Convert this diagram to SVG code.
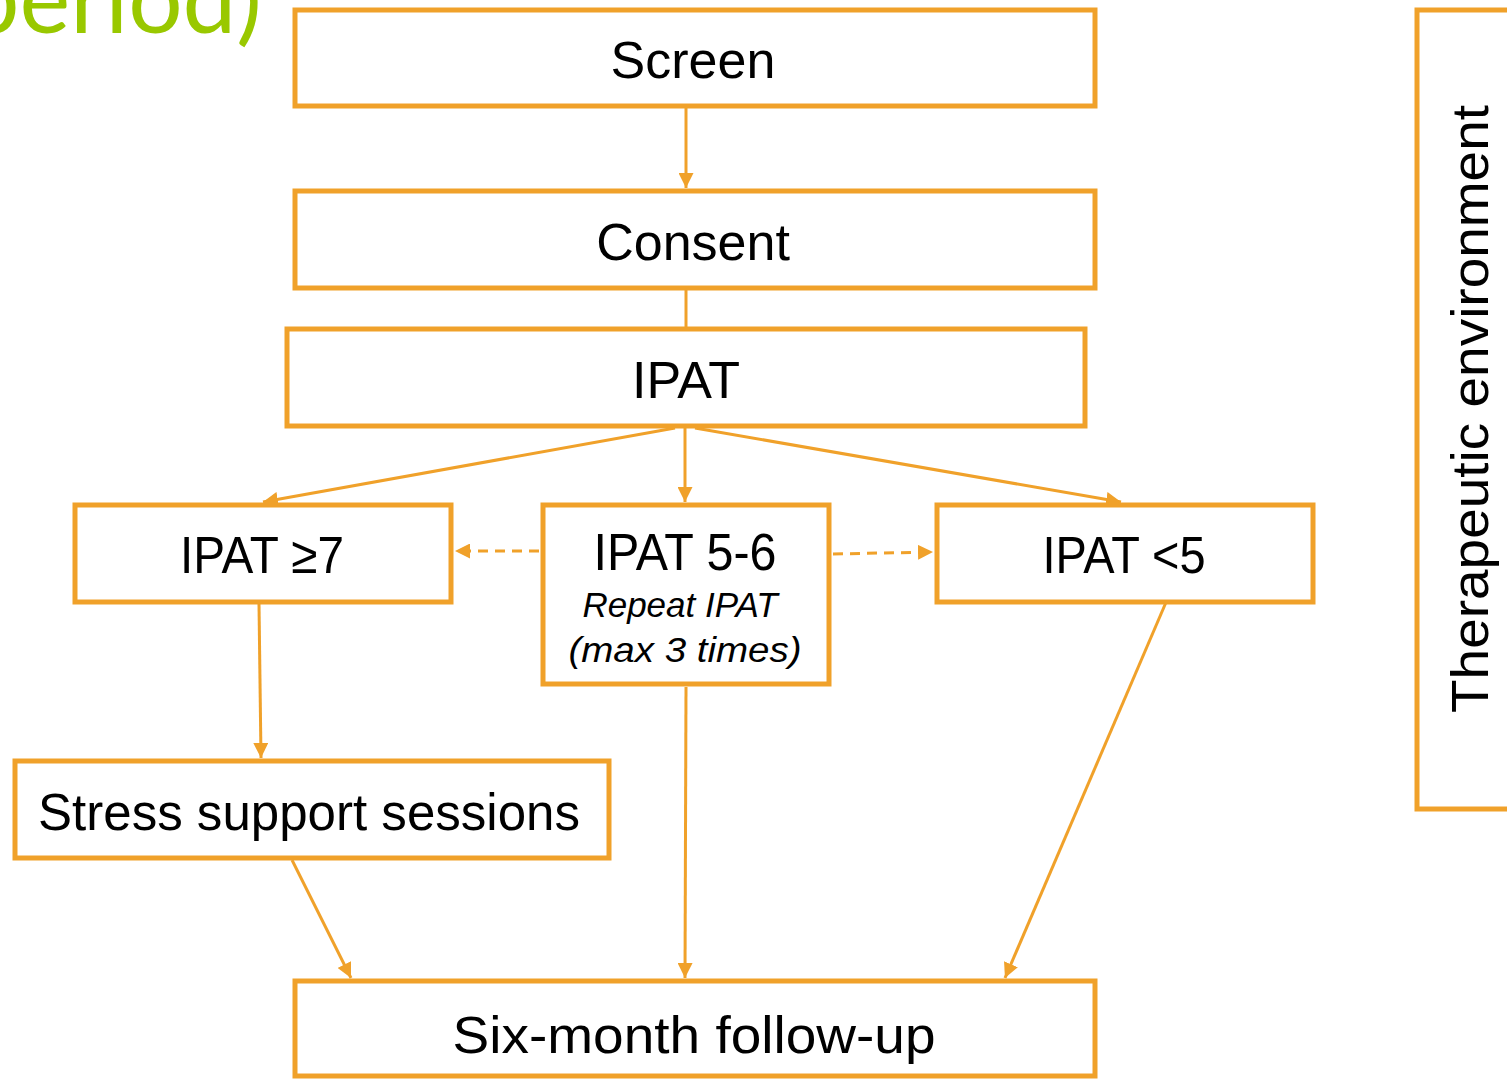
<svg xmlns="http://www.w3.org/2000/svg" width="1507" height="1079" viewBox="0 0 1507 1079">
<style>
.box{fill:#fff;stroke:#F0A12A;stroke-width:5}
.t{font-family:"Liberation Sans",Arial,sans-serif;font-size:52px;fill:#000;text-anchor:middle}
.it{font-family:"Liberation Sans",Arial,sans-serif;font-size:35px;font-style:italic;fill:#000;text-anchor:middle}
.c{stroke:#F0A12A;stroke-width:3;fill:none}
.d{stroke-dasharray:10 7}
</style>
<defs>
<marker id="ah" viewBox="0 0 10 10" refX="10" refY="5" markerWidth="5" markerHeight="5" orient="auto" markerUnits="strokeWidth">
<path d="M0,0 L10,5 L0,10 z" fill="#F0A12A"/>
</marker>
</defs>
<rect width="1507" height="1079" fill="#fff"/>
<text x="262" y="33" font-family="Lato,'DejaVu Sans',sans-serif" font-size="96" fill="#99C800" text-anchor="end">period)</text>
<g id="connectors">
<line class="c" x1="686" y1="107" x2="686" y2="188" marker-end="url(#ah)"/>
<line class="c" x1="686" y1="290" x2="686" y2="328"/>
<line class="c" x1="675" y1="428" x2="263" y2="502" marker-end="url(#ah)"/>
<line class="c" x1="685" y1="428" x2="685" y2="502" marker-end="url(#ah)"/>
<line class="c" x1="695" y1="428" x2="1121" y2="502" marker-end="url(#ah)"/>
<line class="c d" x1="539" y1="551" x2="455" y2="551" marker-end="url(#ah)"/>
<line class="c d" x1="833" y1="554" x2="933" y2="552" marker-end="url(#ah)"/>
<line class="c" x1="259" y1="604" x2="261" y2="758" marker-end="url(#ah)"/>
<line class="c" x1="292" y1="860" x2="351" y2="978" marker-end="url(#ah)"/>
<line class="c" x1="686" y1="687" x2="685" y2="978" marker-end="url(#ah)"/>
<line class="c" x1="1167" y1="600" x2="1005" y2="978" marker-end="url(#ah)"/>
</g>
<g id="screen"><rect class="box" x="295" y="10" width="800" height="96"/><text class="t" x="693" y="78">Screen</text></g>
<g id="consent"><rect class="box" x="295" y="191" width="800" height="97"/><text class="t" x="693" y="260">Consent</text></g>
<g id="ipat"><rect class="box" x="287" y="329" width="798" height="97"/><text class="t" x="686" y="398">IPAT</text></g>
<g id="ipat7"><rect class="box" x="75" y="505" width="376" height="97"/><text class="t" x="262" y="573" textLength="164" lengthAdjust="spacingAndGlyphs">IPAT ≥7</text></g>
<g id="ipat56"><rect class="box" x="543" y="505" width="286" height="179"/><text class="t" x="685" y="570" textLength="183" lengthAdjust="spacingAndGlyphs">IPAT 5-6</text><text class="it" x="680" y="617">Repeat IPAT</text><text class="it" x="685" y="662" textLength="233" lengthAdjust="spacingAndGlyphs">(max 3 times)</text></g>
<g id="ipat5"><rect class="box" x="937" y="505" width="376" height="97"/><text class="t" x="1124" y="573" textLength="163" lengthAdjust="spacingAndGlyphs">IPAT &lt;5</text></g>
<g id="stress"><rect class="box" x="15" y="761" width="594" height="97"/><text class="t" x="309" y="830" textLength="542" lengthAdjust="spacingAndGlyphs">Stress support sessions</text></g>
<g id="followup"><rect class="box" x="295" y="981" width="800" height="95"/><text class="t" x="694" y="1053" textLength="483" lengthAdjust="spacingAndGlyphs">Six-month follow-up</text></g>
<g id="therapeutic"><rect class="box" x="1417" y="10" width="110" height="799"/><text class="t" transform="translate(1488,409) rotate(-90)" x="0" y="0" textLength="608" lengthAdjust="spacingAndGlyphs">Therapeutic environment</text></g>
</svg>
